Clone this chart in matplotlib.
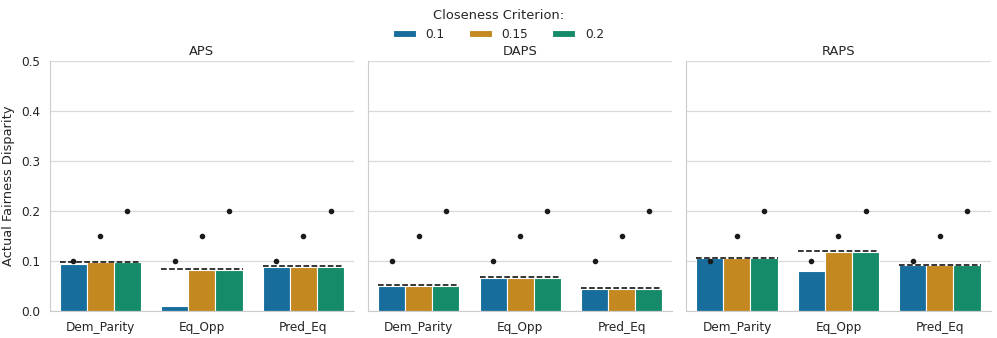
import numpy as np
import matplotlib
matplotlib.use('Agg')
import matplotlib.pyplot as plt
import seaborn as sns

# Datos
methods = ['APS', 'DAPS', 'RAPS']
metrics = ['Dem_Parity', 'Eq_Opp', 'Pred_Eq']
criteria = ['0.1', '0.15', '0.2']
targets = [0.1, 0.15, 0.2]

# disparidad real por criterio (filas: metrica, columnas: criterio)
aps_vals = [[0.093, 0.097, 0.097],
            [0.009, 0.082, 0.081],
            [0.088, 0.088, 0.088]]
daps_vals = [[0.050, 0.050, 0.050],
             [0.065, 0.065, 0.065],
             [0.044, 0.044, 0.044]]
raps_vals = [[0.105, 0.105, 0.105],
             [0.079, 0.118, 0.118],
             [0.091, 0.091, 0.091]]

# linea discontinua por metrica
aps_ref = [0.098, 0.084, 0.089]
daps_ref = [0.051, 0.067, 0.045]
raps_ref = [0.106, 0.120, 0.092]

all_vals = [aps_vals, daps_vals, raps_vals]
all_refs = [aps_ref, daps_ref, raps_ref]

sns.set_style('whitegrid')
plt.rcParams['font.family'] = ['DejaVu Sans']
colores = [sns.desaturate(c, 0.75) for c in sns.color_palette('colorblind', 3)]

fig, axes = plt.subplots(1, 3, figsize=(9.97, 3.38), dpi=100, sharey=True)
fig.subplots_adjust(left=0.0498, right=0.9937, bottom=0.0799, top=0.8195, wspace=0.045)

ancho = 0.8
n = len(criteria)
bw = ancho / n
x = np.arange(len(metrics))

for ax, titulo, vals, refs in zip(axes, methods, all_vals, all_refs):
    vals = np.array(vals)
    for j in range(n):
        pos = x - ancho / 2 + bw * (j + 0.5)
        ax.bar(pos, vals[:, j], width=bw, color=colores[j], edgecolor='white',
               linewidth=0.8, label=criteria[j], zorder=2)
        ax.scatter(pos, [targets[j]] * len(metrics), color='#1a1a1a', s=9, zorder=4)
    for i in range(len(metrics)):
        ax.hlines(refs[i], x[i] - ancho / 2, x[i] + ancho / 2, colors='black',
                  linestyles='--', linewidth=1.1, zorder=3)
    ax.set_title(titulo, fontsize=9.4, pad=4)
    ax.set_xticks(x)
    ax.set_xticklabels(metrics, fontsize=8.7)
    ax.set_xlim(-0.5, len(metrics) - 0.5)
    ax.set_ylim(0, 0.5)
    ax.set_yticks([0.0, 0.1, 0.2, 0.3, 0.4, 0.5])
    ax.tick_params(axis='y', labelsize=8.7, pad=3)
    ax.tick_params(axis='x', pad=4)
    ax.grid(axis='x', visible=False)
    ax.grid(axis='y', color='#d9d9d9', linewidth=0.9)
    ax.set_axisbelow(True)
    for s in ['top', 'right']:
        ax.spines[s].set_visible(False)
    for s in ['left', 'bottom']:
        ax.spines[s].set_color('#cccccc')

axes[0].set_ylabel('Actual Fairness Disparity', fontsize=9.4, labelpad=5)
for ax in axes[1:]:
    ax.tick_params(axis='y', labelleft=False)

handles, labels = axes[0].get_legend_handles_labels()
handles = [h for h in handles if isinstance(h, matplotlib.container.BarContainer)] or handles
fig.legend(handles[:3], labels[:3], title='Closeness Criterion:', loc='upper center',
           bbox_to_anchor=(0.5, 0.995), ncol=3, frameon=False, fontsize=8.7,
           title_fontsize=9.4, handlelength=1.9, handleheight=0.55, columnspacing=2.0,
           handletextpad=0.8, borderaxespad=0.2)

plt.savefig('out.png', dpi=100)
